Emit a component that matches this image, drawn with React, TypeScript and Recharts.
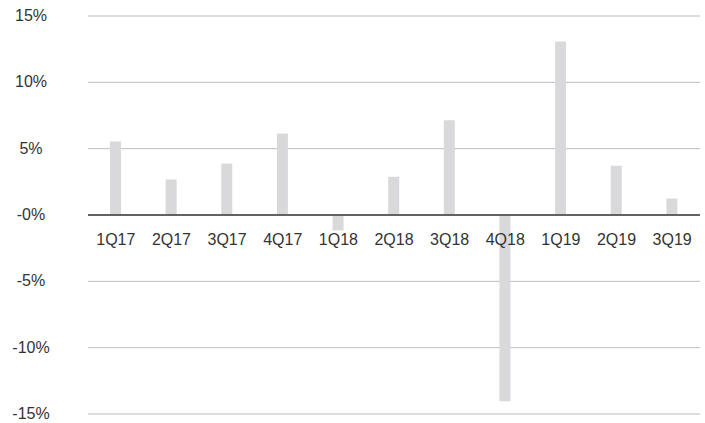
import React from "react";
import { BarChart, Bar, XAxis, YAxis, CartesianGrid, ReferenceLine } from "recharts";

const categories = ["1Q17", "2Q17", "3Q17", "4Q17", "1Q18", "2Q18", "3Q18", "4Q18", "1Q19", "2Q19", "3Q19"];
const growth = [5.54, 2.68, 3.88, 6.14, -1.17, 2.88, 7.14, -14.03, 13.07, 3.71, 1.24];
const yTicks = [-15, -10, -5, 0, 5, 10, 15];
const yTickLabels = ["-15%", "-10%", "-5%", "-0%", "5%", "10%", "15%"];

const data = categories.map((c, i) => ({ cat: c, value: growth[i] }));

const W = 705;
const H = 423;
const X_AXIS_H = 1;
const MARGIN = { top: 16, right: 5, bottom: 8, left: 0 };
const PLOT_H = H - MARGIN.top - MARGIN.bottom - X_AXIS_H;
const Y_MIN = -15;
const Y_MAX = 15;
const ZERO_FROM_BOTTOM = (PLOT_H * (0 - Y_MIN)) / (Y_MAX - Y_MIN);

const FONT = "'Liberation Sans', Arial, sans-serif";

const YTick = (props: any) => {
  const { x, y, payload } = props;
  const idx = yTicks.indexOf(payload.value);
  return (
    <text x={x - 49} y={y} dy={5} textAnchor="middle" fontFamily={FONT} fontSize={16} fill="#333">
      {yTickLabels[idx]}
    </text>
  );
};

const XTick = (props: any) => {
  const { x, y, payload } = props;
  return (
    <text x={x} y={y - ZERO_FROM_BOTTOM} dy={22} textAnchor="middle" fontFamily={FONT} fontSize={16} fill="#333">
      {payload.value}
    </text>
  );
};

export default function App() {
  return (
    <div style={{ position: "absolute", left: 0, top: 0, width: W, height: H, background: "#fff" }}>
      <BarChart width={W} height={H} data={data} margin={MARGIN}>
        <CartesianGrid horizontal={true} vertical={false} stroke="#bdbdbd" strokeWidth={1} />
        <XAxis
          dataKey="cat"
          height={X_AXIS_H}
          axisLine={false}
          tickLine={false}
          tick={<XTick />}
          interval={0}
        />
        <YAxis
          width={88}
          domain={[Y_MIN, Y_MAX]}
          ticks={yTicks}
          axisLine={false}
          tickLine={false}
          tick={<YTick />}
          interval={0}
        />
        <ReferenceLine y={0} stroke="#3a3a3a" strokeWidth={1.5} />
        <Bar dataKey="value" fill="#d9d9db" barSize={11} isAnimationActive={false} />
      </BarChart>
    </div>
  );
}
